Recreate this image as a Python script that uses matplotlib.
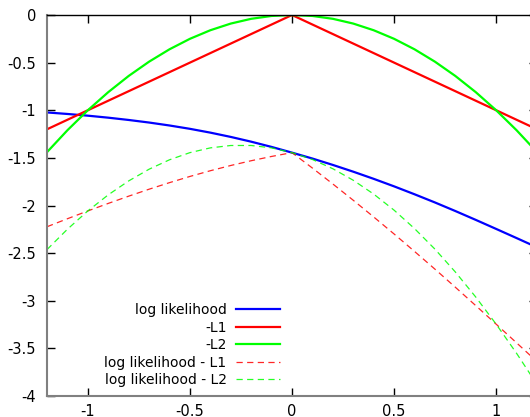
"""Log likelihood with L1 and L2 penalties, gnuplot style."""

import matplotlib

matplotlib.use("Agg")
import matplotlib.pyplot as plt
import numpy as np

# values at x = -1.2 .. 1.2, step 0.1
x_vals = [-1.2, -1.1, -1.0, -0.9, -0.8, -0.7, -0.6, -0.5, -0.4, -0.3, -0.2, -0.1,
          0.0, 0.1, 0.2, 0.3, 0.4, 0.5, 0.6, 0.7, 0.8, 0.9, 1.0, 1.1, 1.2]
log_likelihood = [-1.023, -1.039, -1.057, -1.078, -1.102, -1.129, -1.160, -1.195,
                  -1.235, -1.280, -1.330, -1.385, -1.445, -1.507, -1.574, -1.645,
                  -1.720, -1.799, -1.882, -1.968, -2.058, -2.151, -2.246, -2.342,
                  -2.439]
neg_l1 = [-1.2, -1.1, -1.0, -0.9, -0.8, -0.7, -0.6, -0.5, -0.4, -0.3, -0.2, -0.1,
          0.0, -0.1, -0.2, -0.3, -0.4, -0.5, -0.6, -0.7, -0.8, -0.9, -1.0, -1.1, -1.2]
neg_l2 = [-1.44, -1.21, -1.0, -0.81, -0.64, -0.49, -0.36, -0.25, -0.16, -0.09, -0.04,
          -0.01, 0.0, -0.01, -0.04, -0.09, -0.16, -0.25, -0.36, -0.49, -0.64, -0.81,
          -1.0, -1.21, -1.44]

x_ticks = [-1, -0.5, 0, 0.5, 1]
x_tick_labels = ["-1", "-0.5", "0", "0.5", "1"]
y_ticks = [0, -0.5, -1, -1.5, -2, -2.5, -3, -3.5, -4]
y_tick_labels = ["0", "-0.5", "-1", "-1.5", "-2", "-2.5", "-3", "-3.5", "-4"]

x = np.array(x_vals)
ll = np.array(log_likelihood)
l1 = np.array(neg_l1)
l2 = np.array(neg_l2)

fig = plt.figure(figsize=(5.3, 4.17), dpi=100)
# right edge of the plot box sits just past the image border, as in the reference
ax = fig.add_axes([47 / 530, 21 / 417, 490 / 530, 381 / 417])

ax.plot(x, ll, color="#0000ff", lw=1.6, label="log likelihood")
ax.plot(x, l1, color="#ff0000", lw=1.6, label="-L1")
ax.plot(x, l2, color="#00ff00", lw=1.6, label="-L2")
ax.plot(x, ll + l1, color="#ff0000", lw=0.9, dashes=(5, 3.5), alpha=0.85,
        label="log likelihood - L1")
ax.plot(x, ll + l2, color="#00ff00", lw=0.9, dashes=(5, 3.5), alpha=0.85,
        label="log likelihood - L2")

ax.set_xlim(-1.2, 1.2)
ax.set_ylim(-4, 0)
ax.set_xticks(x_ticks, x_tick_labels)
ax.set_yticks(y_ticks, y_tick_labels)
ax.tick_params(direction="in", length=6, width=1, labelsize=10.5, top=True, right=True)
ax.tick_params(axis="x", pad=6)
ax.tick_params(axis="y", pad=8)

for side in ["left", "bottom"]:
    ax.spines[side].set_color("#808080")
    ax.spines[side].set_linewidth(1.5)
ax.spines["top"].set_linewidth(1.0)

ax.legend(loc="lower right", bbox_to_anchor=(233 / 490, 9 / 381), frameon=False,
          markerfirst=False, fontsize=10, handlelength=3.2, handletextpad=0.65,
          labelspacing=0.25, borderpad=0, borderaxespad=0)

fig.savefig("out.png", dpi=100)
